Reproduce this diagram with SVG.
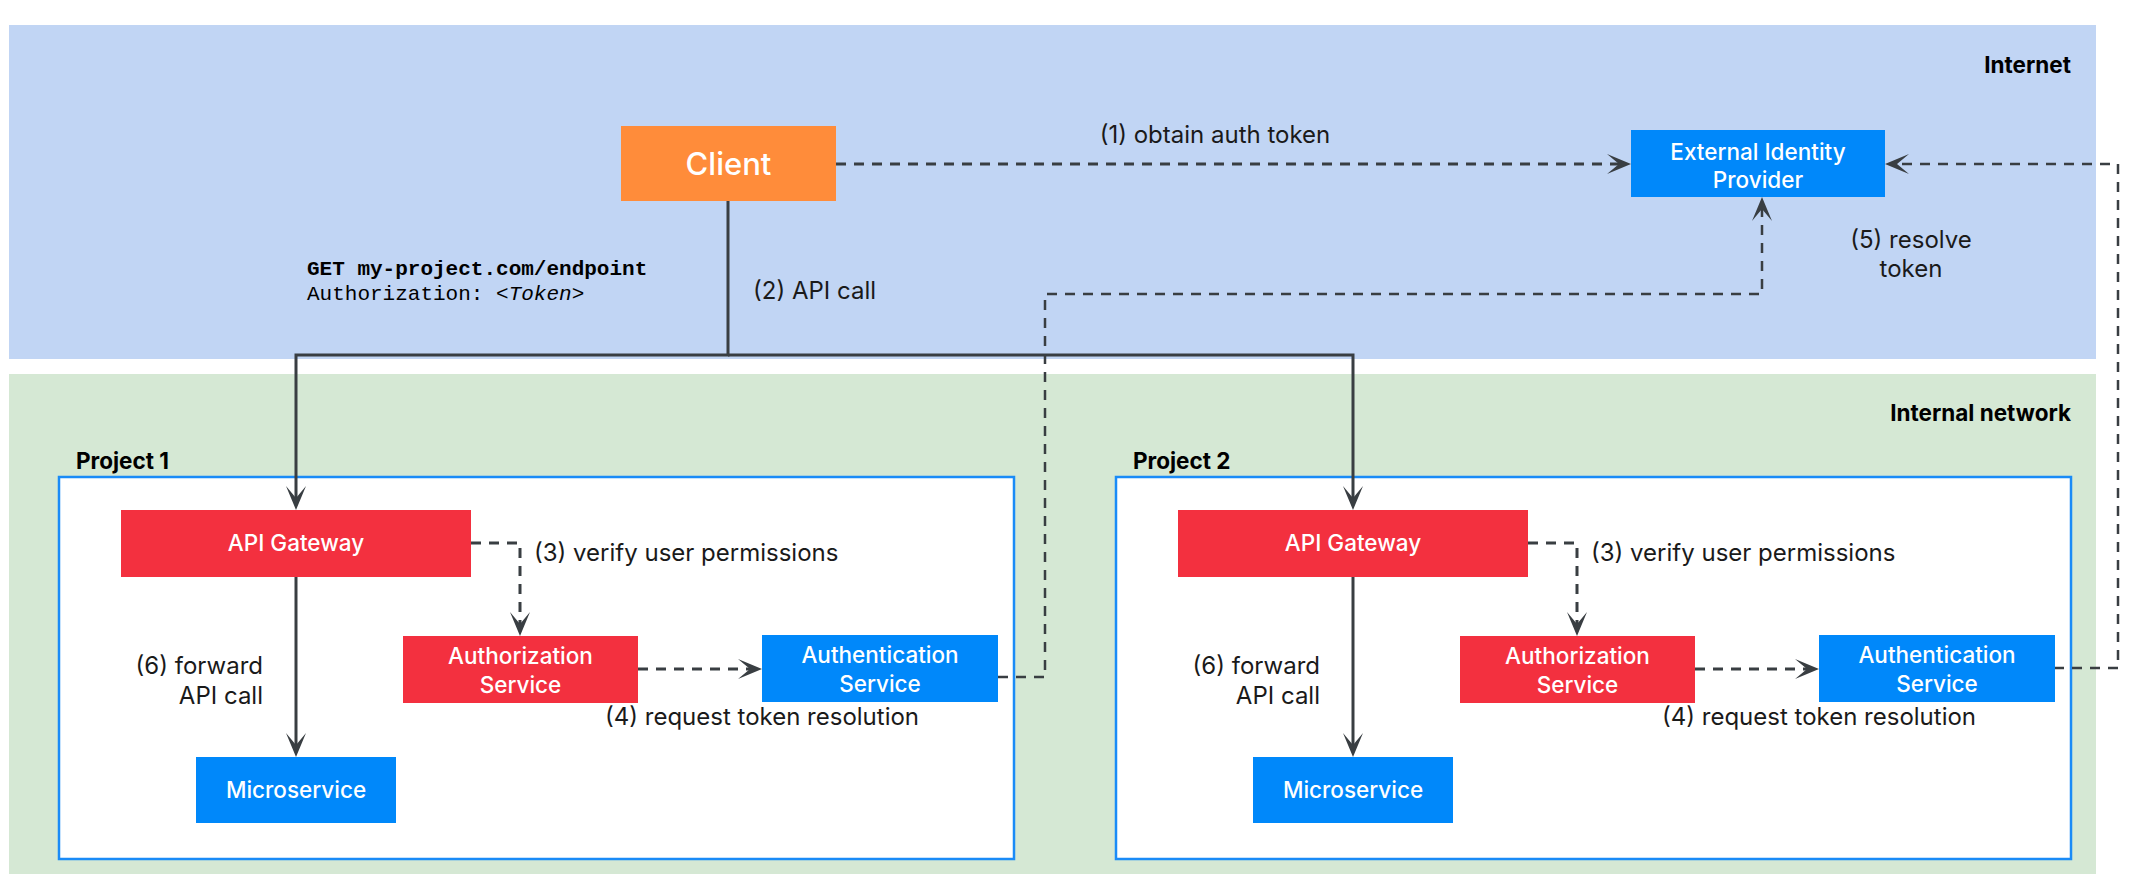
<svg xmlns="http://www.w3.org/2000/svg" width="2138" height="888" viewBox="0 0 2138 888">
<style>
.zone-internet{fill:#C1D5F4}
.zone-internal{fill:#D5E8D4}
.project{fill:#FFFFFF;stroke:#1A8BF7;stroke-width:2.5}
.red{fill:#F3303F}
.blue{fill:#0088FA}
.orange{fill:#FF8C3A}
.ntext{font-family:Inter,"Liberation Sans",sans-serif;font-size:22.5px;font-weight:500;fill:#FFFFFF;text-anchor:middle}
.big{font-size:31px}
.label{font-family:Inter,"Liberation Sans",sans-serif;font-size:24px;fill:#1A1A1A}
.title{font-family:Inter,"Liberation Sans",sans-serif;font-size:22.5px;font-weight:700;fill:#000000}
.mono{font-family:"Liberation Mono","DejaVu Sans Mono",monospace;font-size:21px;fill:#000000}
.solid{fill:none;stroke:#393E42;stroke-width:3}
.dashed{fill:none;stroke:#393E42;stroke-width:3;stroke-dasharray:10 8}
.dashed-thin{fill:none;stroke:#393E42;stroke-width:2.5;stroke-dasharray:10 8}
</style>
<defs>
<marker id="arrow" markerUnits="userSpaceOnUse" viewBox="-26 -12 28 24" markerWidth="28" markerHeight="24" refX="-12" refY="0" orient="auto">
<path d="M0,0 L-24,-10 L-12,0 L-24,10 Z" fill="#393E42"/>
</marker>
</defs>

<g id="zone-internet">
<rect class="zone-internet" x="9" y="25" width="2087" height="334"/>
<text class="title" x="2071" y="73" text-anchor="end">Internet</text>
</g>
<g id="zone-internal">
<rect class="zone-internal" x="9" y="374" width="2087" height="500"/>
<text class="title" x="2071" y="421" text-anchor="end">Internal network</text>
</g>

<g id="project1">
<text class="title" x="76" y="469">Project 1</text>
<rect class="project" x="59" y="477" width="955" height="382"/>
</g>
<g id="project2">
<text class="title" x="1133" y="469">Project 2</text>
<rect class="project" x="1116" y="477" width="955" height="382"/>
</g>

<g id="connectors">
<path class="dashed" d="M836,164 H1619" marker-end="url(#arrow)"/>
<path class="solid" d="M728,201 V355 H296 V498" marker-end="url(#arrow)"/>
<path class="solid" d="M728,355 H1353 V498" marker-end="url(#arrow)"/>
<path class="solid" d="M296,577 V745" marker-end="url(#arrow)"/>
<path class="solid" d="M1353,577 V745" marker-end="url(#arrow)"/>
<path class="dashed" d="M471,543 H520 V624" marker-end="url(#arrow)"/>
<path class="dashed" d="M1528,543 H1577 V624" marker-end="url(#arrow)"/>
<path class="dashed" d="M638,669 H750" marker-end="url(#arrow)"/>
<path class="dashed" d="M1695,669 H1807" marker-end="url(#arrow)"/>
<path class="dashed-thin" d="M998,677 H1045 V294 H1762 V209" marker-end="url(#arrow)"/>
<path class="dashed-thin" d="M2054,668 H2118 V164 H1897" marker-end="url(#arrow)"/>
<text class="label" x="1215" y="143" text-anchor="middle">(1) obtain auth token</text>
<text class="label" x="753" y="299">(2) API call</text>
<text class="mono" x="307" y="275" font-weight="700">GET my-project.com/endpoint</text>
<text class="mono" x="307" y="300">Authorization: &lt;<tspan font-style="italic">Token</tspan>&gt;</text>
<text class="label" x="1911" y="248" text-anchor="middle">(5) resolve</text>
<text class="label" x="1911" y="277" text-anchor="middle">token</text>
<text class="label" x="534" y="561">(3) verify user permissions</text>
<text class="label" x="1591" y="561">(3) verify user permissions</text>
<text class="label" x="605" y="725">(4) request token resolution</text>
<text class="label" x="1662" y="725">(4) request token resolution</text>
<text class="label" x="263" y="674" text-anchor="end">(6) forward</text>
<text class="label" x="263" y="704" text-anchor="end">API call</text>
<text class="label" x="1320" y="674" text-anchor="end">(6) forward</text>
<text class="label" x="1320" y="704" text-anchor="end">API call</text>
</g>

<g id="client">
<rect class="orange" x="621" y="126" width="215" height="75"/>
<text class="ntext big" x="728.5" y="175">Client</text>
</g>
<g id="idp">
<rect class="blue" x="1631" y="130" width="254" height="67"/>
<text class="ntext" x="1758" y="160">External Identity</text>
<text class="ntext" x="1758" y="188">Provider</text>
</g>

<g id="gateway1">
<rect class="red" x="121" y="510" width="350" height="67"/>
<text class="ntext" x="296" y="551">API Gateway</text>
</g>
<g id="authz1">
<rect class="red" x="403" y="636" width="235" height="67"/>
<text class="ntext" x="520.5" y="664">Authorization</text>
<text class="ntext" x="520.5" y="693">Service</text>
</g>
<g id="authn1">
<rect class="blue" x="762" y="635" width="236" height="67"/>
<text class="ntext" x="880" y="663">Authentication</text>
<text class="ntext" x="880" y="692">Service</text>
</g>
<g id="micro1">
<rect class="blue" x="196" y="757" width="200" height="66"/>
<text class="ntext" x="296" y="798">Microservice</text>
</g>

<g id="gateway2">
<rect class="red" x="1178" y="510" width="350" height="67"/>
<text class="ntext" x="1353" y="551">API Gateway</text>
</g>
<g id="authz2">
<rect class="red" x="1460" y="636" width="235" height="67"/>
<text class="ntext" x="1577.5" y="664">Authorization</text>
<text class="ntext" x="1577.5" y="693">Service</text>
</g>
<g id="authn2">
<rect class="blue" x="1819" y="635" width="236" height="67"/>
<text class="ntext" x="1937" y="663">Authentication</text>
<text class="ntext" x="1937" y="692">Service</text>
</g>
<g id="micro2">
<rect class="blue" x="1253" y="757" width="200" height="66"/>
<text class="ntext" x="1353" y="798">Microservice</text>
</g>
</svg>
